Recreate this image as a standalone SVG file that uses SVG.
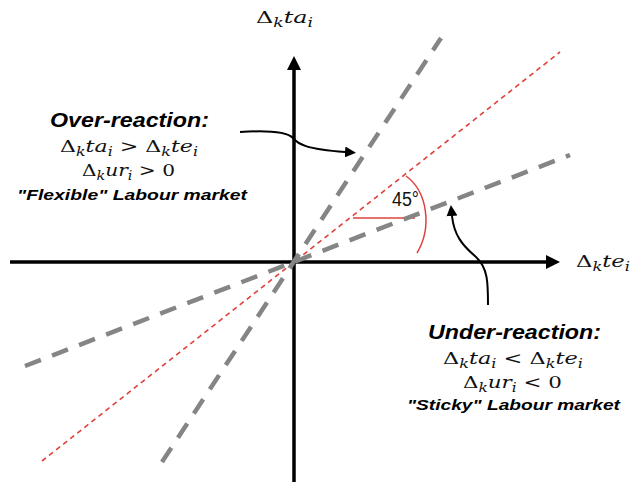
<svg xmlns="http://www.w3.org/2000/svg" width="631" height="482" viewBox="0 0 631 482">
<defs>
<style>
.m { font-family: "DejaVu Serif", "Liberation Serif", serif; font-size: 17.5px; fill: #111; }
.it { font-style: italic; }
.s { font-style: italic; font-size: 12.5px; }
.b { font-family: "Liberation Sans", Arial, sans-serif; font-weight: bold; font-style: italic; fill: #000; }
.axis { stroke: #000; stroke-width: 3.5; fill: none; }
.gray { stroke: #858585; stroke-width: 4.5; stroke-dasharray: 17 12; fill: none; }
.reddot { stroke: #e0403c; stroke-width: 1.6; stroke-dasharray: 5 4; fill: none; }
.red { stroke: #e0403c; stroke-width: 1.5; fill: none; }
.ann { stroke: #000; stroke-width: 2; fill: none; }
</style>
<marker id="axhead" markerUnits="userSpaceOnUse" markerWidth="15" markerHeight="15" refX="0" refY="7" orient="auto">
<path d="M0,0 L14,7 L0,14 z" fill="#000"/>
</marker>
<marker id="annhead" markerUnits="userSpaceOnUse" markerWidth="12" markerHeight="12" refX="0" refY="5.5" orient="auto">
<path d="M0,0 L11,5.5 L0,11 z" fill="#000"/>
</marker>
</defs>
<rect width="631" height="482" fill="#fff"/>

<g id="axes">
<line class="axis" x1="294" y1="482" x2="294" y2="70" marker-end="url(#axhead)"/>
<line class="axis" x1="10" y1="262" x2="546" y2="262" marker-end="url(#axhead)"/>
</g>

<g id="lines">
<line id="line45" class="reddot" x1="42" y1="461" x2="560" y2="52"/>
<line class="red" x1="353" y1="218" x2="415" y2="218"/>
<path class="red" d="M406,176 C428,192 432,228 417,253"/>
<line id="steep" class="gray" x1="162" y1="462" x2="441" y2="38"/>
<line id="shallow" class="gray" x1="25" y1="366" x2="570" y2="155"/>
</g>

<g id="connectors">
<path class="ann" d="M240,132 C272,130 288,133 293,138 C298,144 305,149 345,152" marker-end="url(#annhead)"/>
<path class="ann" d="M488,305 C488,283 488,268 476,257 C462,245 454,235 452,216" marker-end="url(#annhead)"/>
</g>

<g id="label-y">
<text class="m" x="256" y="23" textLength="57" lengthAdjust="spacingAndGlyphs">Δ<tspan class="s" dy="3.5">k</tspan><tspan class="it" dy="-3.5">ta</tspan><tspan class="s" dy="3.5">i</tspan></text>
</g>
<g id="label-x">
<text class="m" x="576" y="267" textLength="54" lengthAdjust="spacingAndGlyphs">Δ<tspan class="s" dy="3.5">k</tspan><tspan class="it" dy="-3.5">te</tspan><tspan class="s" dy="3.5">i</tspan></text>
</g>

<g id="angle-label">
<text x="392" y="206" font-family="Liberation Sans, Arial, sans-serif" font-size="20" fill="#111" textLength="27" lengthAdjust="spacingAndGlyphs">45°</text>
</g>

<g id="over-reaction">
<text class="b" x="50" y="127" font-size="19.5" textLength="159" lengthAdjust="spacingAndGlyphs">Over-reaction:</text>
<text class="m" x="60" y="152" textLength="138" lengthAdjust="spacingAndGlyphs">Δ<tspan class="s" dy="3.5">k</tspan><tspan class="it" dy="-3.5">ta</tspan><tspan class="s" dy="3.5">i</tspan><tspan dy="-3.5"> &gt; Δ</tspan><tspan class="s" dy="3.5">k</tspan><tspan class="it" dy="-3.5">te</tspan><tspan class="s" dy="3.5">i</tspan></text>
<text class="m" x="82" y="176" textLength="93" lengthAdjust="spacingAndGlyphs">Δ<tspan class="s" dy="3.5">k</tspan><tspan class="it" dy="-3.5">ur</tspan><tspan class="s" dy="3.5">i</tspan><tspan dy="-3.5"> &gt; 0</tspan></text>
<text class="b" x="17" y="200" font-size="15.5" textLength="230" lengthAdjust="spacingAndGlyphs">"Flexible" Labour market</text>
</g>

<g id="under-reaction">
<text class="b" x="428" y="339" font-size="19.5" textLength="173" lengthAdjust="spacingAndGlyphs">Under-reaction:</text>
<text class="m" x="443" y="364" textLength="140" lengthAdjust="spacingAndGlyphs">Δ<tspan class="s" dy="3.5">k</tspan><tspan class="it" dy="-3.5">ta</tspan><tspan class="s" dy="3.5">i</tspan><tspan dy="-3.5"> &lt; Δ</tspan><tspan class="s" dy="3.5">k</tspan><tspan class="it" dy="-3.5">te</tspan><tspan class="s" dy="3.5">i</tspan></text>
<text class="m" x="463" y="388" textLength="99" lengthAdjust="spacingAndGlyphs">Δ<tspan class="s" dy="3.5">k</tspan><tspan class="it" dy="-3.5">ur</tspan><tspan class="s" dy="3.5">i</tspan><tspan dy="-3.5"> &lt; 0</tspan></text>
<text class="b" x="407" y="410" font-size="15.5" textLength="213" lengthAdjust="spacingAndGlyphs">"Sticky" Labour market</text>
</g>
</svg>
